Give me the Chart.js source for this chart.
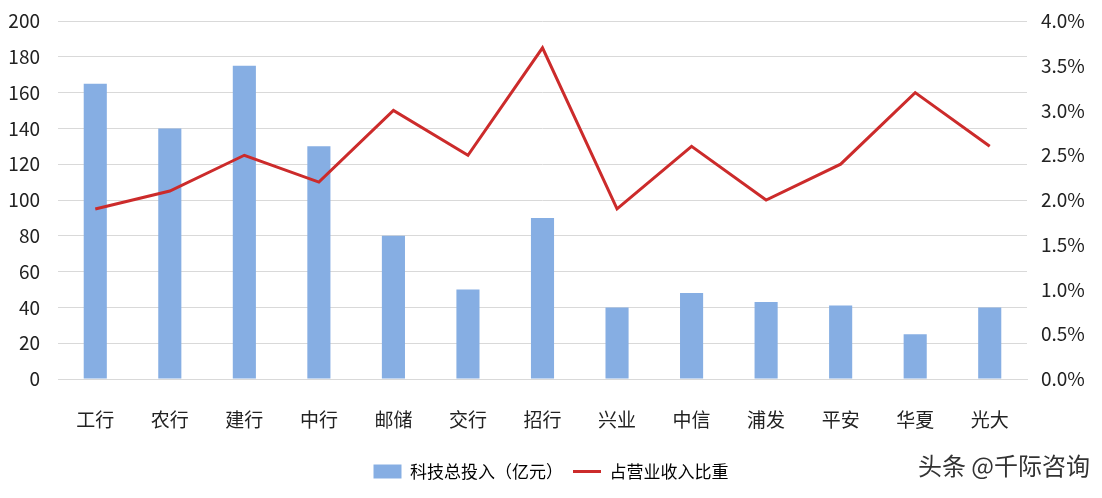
<!DOCTYPE html>
<html>
<head>
<meta charset="utf-8">
<script src="https://cdn.jsdelivr.net/npm/chart.js@4"></script>
<style>
  html, body { margin: 0; padding: 0; background: #fff; }
  #wrap { width: 1102px; height: 498px; }
</style>
</head>
<body>
<div id="wrap"><canvas id="bankChart"></canvas></div>
<script>
// Data
const banks = ['工行', '农行', '建行', '中行', '邮储', '交行', '招行', '兴业', '中信', '浦发', '平安', '华夏', '光大'];
const techInvest = [165, 140, 175, 130, 80, 50, 90, 40, 48, 43, 41, 25, 40];     // 亿元
const revenueShare = [1.9, 2.1, 2.5, 2.2, 3.0, 2.5, 3.7, 1.9, 2.6, 2.0, 2.4, 3.2, 2.6]; // %

const NUM_FONT = "'Noto Sans CJK SC', sans-serif";
const CJK_FONT = "'Noto Sans CJK SC', sans-serif";

// bottom-right source mark
const sourceMark = {
    id: 'sourceMark',
    afterDraw(chart) {
        const ctx = chart.ctx;
        ctx.save();
        ctx.font = "24px " + CJK_FONT;
        ctx.fillStyle = '#333';
        ctx.textAlign = 'right';
        ctx.textBaseline = 'middle';
        ctx.fillText('头条 @千际咨询', 1090, 466);
        ctx.restore();
    }
};

const ctx = document.getElementById('bankChart').getContext('2d');
new Chart(ctx, {
    data: {
        labels: banks,
        datasets: [
            {
                type: 'line',
                label: '占营业收入比重',
                data: revenueShare,
                yAxisID: 'y1',
                borderColor: '#CC2B2B',
                backgroundColor: '#CC2B2B',
                borderWidth: 3,
                pointRadius: 0,
                tension: 0,
                order: 0
            },
            {
                type: 'bar',
                label: '科技总投入（亿元）',
                data: techInvest,
                yAxisID: 'y',
                backgroundColor: '#86AEE3',
                categoryPercentage: 1,
                barPercentage: 0.31,
                order: 1
            }
        ]
    },
    options: {
        responsive: true,
        maintainAspectRatio: false,
        animation: false,
        layout: { padding: { top: 21, bottom: 8, left: 0, right: 0 } },
        plugins: {
            tooltip: { enabled: false },
            legend: {
                position: 'bottom',
                reverse: true,
                labels: {
                    font: { family: CJK_FONT, size: 17 },
                    color: '#222',
                    boxWidth: 14,
                    boxHeight: 14,
                    padding: 10,
                    generateLabels(chart) {
                        return chart.data.datasets.map((ds, i) => ({
                            text: ds.label,
                            fillStyle: ds.backgroundColor,
                            strokeStyle: ds.type === 'line' ? ds.borderColor : ds.backgroundColor,
                            lineWidth: ds.type === 'line' ? 3 : 0,
                            pointStyle: ds.type === 'line' ? 'line' : 'rect',
                            datasetIndex: i,
                            hidden: false
                        }));
                    },
                    usePointStyle: true,
                    pointStyleWidth: 28
                }
            }
        },
        scales: {
            x: {
                grid: { display: false, drawTicks: false },
                border: { display: true, color: '#d9d9d9' },
                ticks: {
                    font: { family: CJK_FONT, size: 19 },
                    color: '#222',
                    padding: 29,
                    maxRotation: 0
                },
                afterFit(scale) {
                    scale.height = 74;
                    scale.paddingLeft = 0;
                    scale.paddingRight = 0;
                }
            },
            y: {
                position: 'left',
                min: 0,
                max: 200,
                ticks: {
                    stepSize: 20,
                    font: { family: NUM_FONT, size: 19 },
                    color: '#222',
                    padding: 18
                },
                grid: { color: '#d9d9d9', drawTicks: false },
                border: { display: false },
                afterFit(scale) {
                    scale.width = 58;
                    scale.paddingTop = 0;
                    scale.paddingBottom = 0;
                }
            },
            y1: {
                position: 'right',
                min: 0,
                max: 4,
                ticks: {
                    stepSize: 0.5,
                    font: { family: NUM_FONT, size: 19 },
                    color: '#222',
                    padding: 14,
                    callback: v => v.toFixed(1) + '%'
                },
                grid: { display: false, drawTicks: false },
                border: { display: false },
                afterFit(scale) {
                    scale.width = 75;
                    scale.paddingTop = 0;
                    scale.paddingBottom = 0;
                }
            }
        }
    },
    plugins: [sourceMark]
});
</script>
</body>
</html>
